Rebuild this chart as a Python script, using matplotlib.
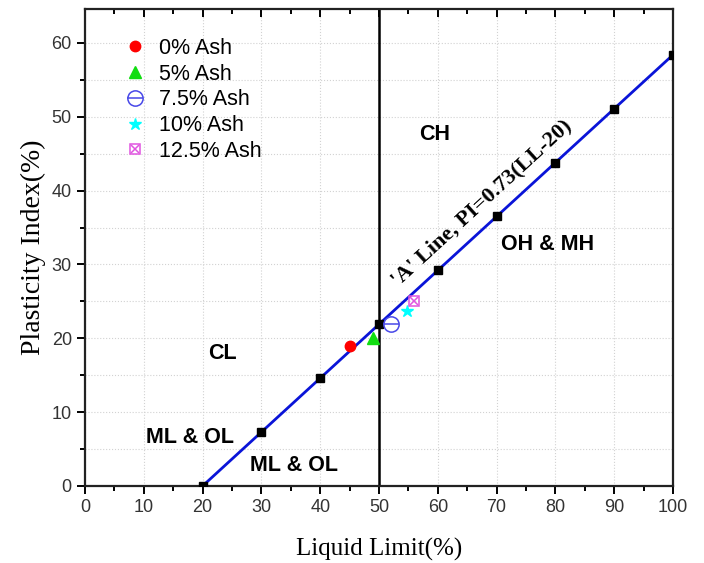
import numpy as np
import matplotlib
matplotlib.use("Agg")
import matplotlib.pyplot as plt
from matplotlib.ticker import MultipleLocator
from matplotlib.legend_handler import HandlerTuple

# A-line: PI = 0.73(LL-20)
a_ll = [20, 30, 40, 50, 60, 70, 80, 90, 100]
a_pi = [0.73 * (x - 20) for x in a_ll]

# sample points
labels = ['0% Ash', '5% Ash', '7.5% Ash', '10% Ash', '12.5% Ash']
ll = [45, 49, 52, 54.8, 56]
pi = [19.0, 20.0, 21.9, 23.7, 25.0]

fig = plt.figure(figsize=(7.04, 5.63), dpi=100)
ax = fig.add_axes([0.1207, 0.1368, 0.956 - 0.1207, 0.984 - 0.1368])

ax.set_xlim(0, 100)
ax.set_ylim(0, 64.6)
ax.xaxis.set_major_locator(MultipleLocator(10))
ax.xaxis.set_minor_locator(MultipleLocator(5))
ax.yaxis.set_major_locator(MultipleLocator(10))
ax.yaxis.set_minor_locator(MultipleLocator(5))
ax.grid(True, which='major', axis='x', ls=':', color='#d2d2d2', lw=0.8)
ax.grid(True, which='both', axis='y', ls=':', color='#d2d2d2', lw=0.8)
ax.set_axisbelow(True)

ax.plot(a_ll, a_pi, color='#0a14d8', lw=2, marker='s', ms=5.5,
        mfc='black', mec='black', zorder=3)
ax.axvline(50, color='black', lw=1.8, zorder=2)

h0, = ax.plot(ll[0], pi[0], 'o', color='red', ms=7.5, ls='none', zorder=4)
h1, = ax.plot(ll[1], pi[1], '^', color='#11dd11', ms=8, ls='none', zorder=4)
h2a, = ax.plot(ll[2], pi[2], 'o', mfc='none', mec='#4848e8', mew=1.1, ms=11, ls='none', zorder=4)
h2b, = ax.plot(ll[2], pi[2], '_', color='#4848e8', mew=1.1, ms=11, ls='none', zorder=4)
h3, = ax.plot(ll[3], pi[3], '*', color='cyan', ms=9, ls='none', zorder=4)
h4a, = ax.plot(ll[4], pi[4], 's', mfc='none', mec='#e055e0', mew=1.1, ms=7.5, ls='none', zorder=4)
h4b, = ax.plot(ll[4], pi[4], 'x', color='#e055e0', mew=1.1, ms=6, ls='none', zorder=4)

bold = dict(fontsize=15.5, fontweight='bold', family='Liberation Sans', ha='center', va='center')
ax.text(59.5, 47.6, 'CH', **bold)
ax.text(78.7, 32.7, 'OH & MH', **bold)
ax.text(23.3, 17.9, 'CL', **bold)
ax.text(17.9, 6.6, 'ML & OL', **bold)
ax.text(35.5, 2.8, 'ML & OL', **bold)
ax.text(67.5, 38.3, "'A' Line, PI=0.73(LL-20)", rotation=42.5, rotation_mode='anchor',
        fontsize=16, fontweight='bold', family='Liberation Serif', ha='center', va='center')

for side in ['top', 'right', 'left', 'bottom']:
    ax.spines[side].set_linewidth(1.6)
    ax.spines[side].set_color('#222222')
ax.tick_params(which='both', direction='out', width=1.4, top=True, labeltop=False)
ax.tick_params(which='major', length=6)
ax.tick_params(which='minor', length=3.5)
for t in ax.get_xticklabels() + ax.get_yticklabels():
    t.set_family('Liberation Sans')
    t.set_fontsize(13)
    t.set_color('#333333')
# top ticks point inward
for tk in ax.xaxis.get_major_ticks() + ax.xaxis.get_minor_ticks():
    tk.tick2line.set_marker(matplotlib.lines.TICKDOWN)

ax.set_xlabel('Liquid Limit(%)', family='Liberation Serif', fontsize=18, labelpad=16)
ax.set_ylabel('Plasticity Index(%)', family='Liberation Serif', fontsize=20, labelpad=4)

handles = [h0, h1, (h2a, h2b), h3, (h4a, h4b)]
leg = ax.legend(handles, labels, loc='upper left', bbox_to_anchor=(0.03, 0.98), frameon=False,
                prop={'family': 'Liberation Sans', 'size': 15.5}, handletextpad=0.5,
                labelspacing=0.22, handlelength=1.2,
                handler_map={tuple: HandlerTuple(ndivide=1, pad=0)})

fig.savefig('out.png', dpi=100)
